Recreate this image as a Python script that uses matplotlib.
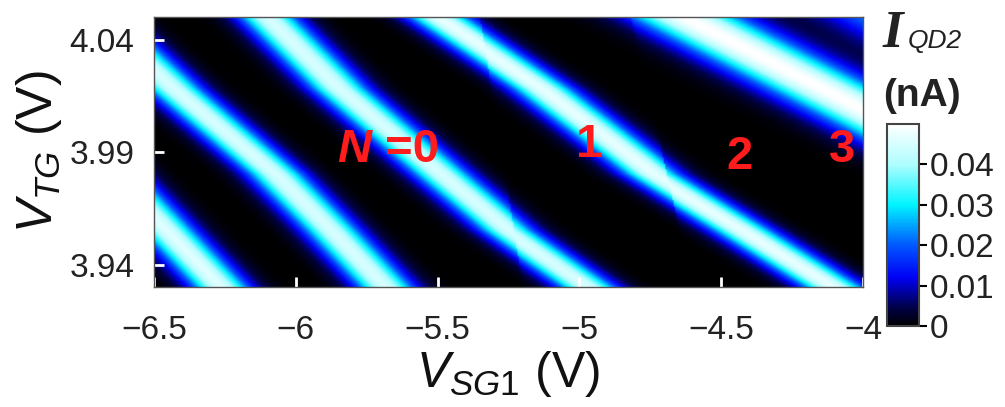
import numpy as np
import matplotlib
matplotlib.use("Agg")
import matplotlib.pyplot as plt
from matplotlib.colors import LinearSegmentedColormap

plt.rcParams['font.family'] = ['Liberation Sans', 'DejaVu Sans']
plt.rcParams['mathtext.fontset'] = 'custom'
plt.rcParams['mathtext.rm'] = 'Liberation Sans'
plt.rcParams['mathtext.it'] = 'Liberation Sans:italic'
plt.rcParams['mathtext.bf'] = 'Liberation Sans:bold'

tg_levels = [3.930, 3.955, 3.980, 4.018, 4.050]
# peak centre lines, V_SG1 (V) at each level, left of the switching lines
peak_a = [-6.268, -6.458, -6.648, -6.937, -7.183]
peak_b = [-5.687, -5.877, -6.074, -6.433, -6.708]
peak_c = [-4.960, -5.250, -5.489, -5.849, -6.105]
peak_d = [-4.074, -4.394, -4.722, -5.120, -5.504]
peak_e = [-2.722, -3.102, -3.530, -4.110, -4.600]
peak_f = [-2.100, -2.500, -2.900, -3.400, -3.860]
peak_height = [0.046, 0.045, 0.045, 0.047, 0.050, 0.027]  # nA
peak_width = [0.074, 0.074, 0.076, 0.080, 0.145, 0.170]    # V

# charge switching lines (V_SG1 at tg bottom/top) and the peak shift across them
switch_tg = [3.930, 4.050]
switch_1 = [-5.201, -5.352]
switch_2 = [-4.602, -4.820]
switch_shift = [-0.015, -0.02]

labels = ['=0', '1', '2', '3']
label_x = [-5.687, -4.965, -4.437, -4.074]
label_y = [3.991, 3.993, 3.988, 3.991]

sg = np.linspace(-6.5, -4.0, 500)
tg = np.linspace(3.930, 4.050, 240)
X, Y = np.meshgrid(sg, tg)

shift = np.zeros_like(X)
for line, s in zip([switch_1, switch_2], switch_shift):
    xj = np.interp(Y, switch_tg, line)
    shift += s * (X > xj)

current = np.zeros_like(X)
for pk, h, w in zip([peak_a, peak_b, peak_c, peak_d, peak_e, peak_f],
                    peak_height, peak_width):
    xc = np.interp(Y, tg_levels, pk) + shift
    current += h * np.exp(-0.5 * ((X - xc) / w) ** 2)

cmap = LinearSegmentedColormap.from_list('qd', [
    (0.0, '#000000'), (0.09, '#000048'), (0.24, '#0000f5'),
    (0.4, '#0058ff'), (0.6, '#00f4ff'), (0.8, '#aefdff'), (1.0, '#ffffff')])

fig = plt.figure(figsize=(10.05, 4.07), dpi=100)
ax = fig.add_axes([0.1532, 0.2948, 0.7055, 0.6634])
im = ax.imshow(current, extent=[sg[0], sg[-1], tg[0], tg[-1]], origin='lower',
               aspect='auto', cmap=cmap, vmin=0, vmax=0.05,
               interpolation='bilinear')

ax.set_xlim(-6.5, -4.0)
ax.set_ylim(3.930, 4.050)
ax.set_xticks([-6.5, -6, -5.5, -5, -4.5, -4])
ax.set_xticklabels(['\u22126.5', '\u22126', '\u22125.5', '\u22125', '\u22124.5', '\u22124'])
ax.set_yticks([3.94, 3.99, 4.04])
ax.set_yticklabels(['3.94', '3.99', '4.04'])
ax.tick_params(direction='in', color='white', length=7, width=2,
               labelsize=24, pad=14, labelcolor='#222222')
ax.tick_params(axis='x', pad=20)
for sp in ax.spines.values():
    sp.set_color('#555555')
    sp.set_linewidth(1)

ax.set_xlabel(r'$V_{SG1}$ (V)', fontsize=36, labelpad=2, color='#111111')
ax.set_ylabel(r'$V_{TG}$ (V)', fontsize=36, labelpad=4, color='#111111')

red = '#ff1c1c'
ax.text(label_x[0] - 0.045, label_y[0], 'N', color=red, fontsize=34,
        fontweight='bold', style='italic', ha='right', va='center')
for t, x, y in zip(labels, label_x, label_y):
    ax.text(x, y, t, color=red, fontsize=34, fontweight='bold',
            ha='left' if t == '=0' else 'center', va='center')

cax = fig.add_axes([0.8826, 0.199, 0.0318, 0.4963])
cb = fig.colorbar(im, cax=cax, ticks=[0, 0.01, 0.02, 0.03, 0.04])
cb.ax.set_yticklabels(['0', '0.01', '0.02', '0.03', '0.04'])
cb.ax.tick_params(labelsize=24, length=6, width=1.5, pad=2, labelcolor='#222222')
cb.outline.set_edgecolor('#444444')
cb.outline.set_linewidth(1.5)

fig.text(0.878, 0.885, 'I', fontsize=38, color='#222222',
         family='Liberation Serif', style='italic', weight='bold')
fig.text(0.903, 0.882, 'QD2', fontsize=19, color='#222222', style='italic')
fig.text(0.879, 0.74, '(nA)', fontsize=28, color='#222222', weight='bold')

fig.savefig('out.png', dpi=100)
